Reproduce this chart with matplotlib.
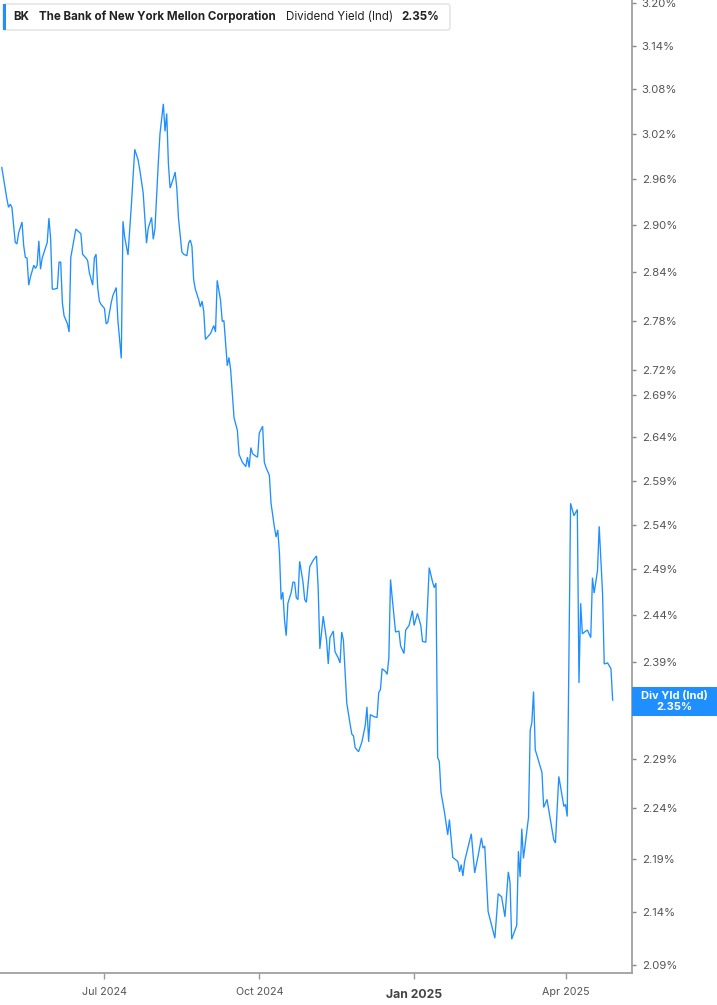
import matplotlib
matplotlib.use("Agg")
import matplotlib.pyplot as plt
import matplotlib.dates as mdates
from matplotlib.patches import Rectangle, FancyBboxPatch
import pandas as pd

plt.rcParams['font.family'] = ['Inter', 'DejaVu Sans']

dates = [
    # May 2024
    "2024-05-01", "2024-05-03", "2024-05-04", "2024-05-05", "2024-05-06", "2024-05-07", "2024-05-09",
    "2024-05-10", "2024-05-11", "2024-05-13", "2024-05-14", "2024-05-15", "2024-05-16", "2024-05-17",
    "2024-05-18", "2024-05-20", "2024-05-21", "2024-05-22", "2024-05-23", "2024-05-24", "2024-05-25",
    "2024-05-28", "2024-05-29", "2024-05-30", "2024-05-31",
    # Jun 2024
    "2024-06-01", "2024-06-03", "2024-06-04", "2024-06-05", "2024-06-06", "2024-06-07", "2024-06-09",
    "2024-06-10", "2024-06-11", "2024-06-12", "2024-06-14", "2024-06-16", "2024-06-17", "2024-06-18",
    "2024-06-20", "2024-06-21", "2024-06-22", "2024-06-24", "2024-06-25", "2024-06-26", "2024-06-27",
    "2024-06-28", "2024-06-29",
    # Jul 2024
    "2024-07-01", "2024-07-02", "2024-07-03", "2024-07-05", "2024-07-06", "2024-07-08", "2024-07-09",
    "2024-07-11", "2024-07-12", "2024-07-13", "2024-07-15", "2024-07-17", "2024-07-19", "2024-07-21",
    "2024-07-22", "2024-07-24", "2024-07-25", "2024-07-26", "2024-07-27", "2024-07-29", "2024-07-30",
    "2024-07-31",
    # Aug 2024
    "2024-08-02", "2024-08-03", "2024-08-05", "2024-08-06", "2024-08-07", "2024-08-08", "2024-08-09",
    "2024-08-11", "2024-08-12", "2024-08-13", "2024-08-14", "2024-08-16", "2024-08-17", "2024-08-19",
    "2024-08-20", "2024-08-21", "2024-08-22", "2024-08-23", "2024-08-24", "2024-08-26", "2024-08-27",
    "2024-08-28", "2024-08-29", "2024-08-30",
    # Sep 2024
    "2024-09-02", "2024-09-04", "2024-09-05", "2024-09-06", "2024-09-08", "2024-09-09", "2024-09-10",
    "2024-09-12", "2024-09-13", "2024-09-14", "2024-09-16", "2024-09-18", "2024-09-19", "2024-09-21",
    "2024-09-23", "2024-09-24", "2024-09-25", "2024-09-26", "2024-09-27", "2024-09-29", "2024-09-30",
    # Oct 2024
    "2024-10-01", "2024-10-03", "2024-10-04", "2024-10-05", "2024-10-07", "2024-10-08", "2024-10-10",
    "2024-10-11", "2024-10-12", "2024-10-13", "2024-10-14", "2024-10-15", "2024-10-16", "2024-10-17",
    "2024-10-18", "2024-10-20", "2024-10-21", "2024-10-22", "2024-10-23", "2024-10-24", "2024-10-25",
    "2024-10-27", "2024-10-28", "2024-10-29", "2024-10-31",
    # Nov 2024
    "2024-11-02", "2024-11-04", "2024-11-05", "2024-11-06", "2024-11-08", "2024-11-10", "2024-11-11",
    "2024-11-12", "2024-11-14", "2024-11-15", "2024-11-17", "2024-11-18", "2024-11-19", "2024-11-20",
    "2024-11-22", "2024-11-24", "2024-11-25", "2024-11-26", "2024-11-27", "2024-11-29",
    # Dec 2024
    "2024-12-01", "2024-12-03", "2024-12-04", "2024-12-05", "2024-12-06", "2024-12-08", "2024-12-10",
    "2024-12-11", "2024-12-12", "2024-12-13", "2024-12-15", "2024-12-16", "2024-12-17", "2024-12-18",
    "2024-12-19", "2024-12-21", "2024-12-23", "2024-12-24", "2024-12-25", "2024-12-26", "2024-12-27",
    "2024-12-29", "2024-12-30", "2024-12-31",
    # Jan 2025
    "2025-01-01", "2025-01-03", "2025-01-05", "2025-01-06", "2025-01-08", "2025-01-10", "2025-01-12",
    "2025-01-13", "2025-01-14", "2025-01-15", "2025-01-16", "2025-01-17", "2025-01-19", "2025-01-21",
    "2025-01-22", "2025-01-24", "2025-01-27", "2025-01-28", "2025-01-29", "2025-01-30", "2025-01-31",
    # Feb 2025
    "2025-02-04", "2025-02-06", "2025-02-08", "2025-02-10", "2025-02-11", "2025-02-12", "2025-02-14",
    "2025-02-18", "2025-02-20", "2025-02-22", "2025-02-24", "2025-02-26", "2025-02-27", "2025-02-28",
    # Mar 2025
    "2025-03-03", "2025-03-04", "2025-03-05", "2025-03-06", "2025-03-07", "2025-03-10", "2025-03-11",
    "2025-03-12", "2025-03-13", "2025-03-14", "2025-03-18", "2025-03-19", "2025-03-21", "2025-03-25",
    "2025-03-26", "2025-03-28", "2025-03-31",
    # Apr 2025
    "2025-04-01", "2025-04-02", "2025-04-04", "2025-04-06", "2025-04-08", "2025-04-09", "2025-04-10",
    "2025-04-11", "2025-04-13", "2025-04-14", "2025-04-16", "2025-04-17", "2025-04-18", "2025-04-20",
    "2025-04-21", "2025-04-23", "2025-04-24", "2025-04-26", "2025-04-28", "2025-04-29",
]

yield_pct = [
    # May 2024
    2.975, 2.947, 2.934, 2.923, 2.927, 2.923, 2.878, 2.876, 2.890, 2.904, 2.874, 2.859, 2.858,
    2.824, 2.834, 2.849, 2.845, 2.849, 2.880, 2.844, 2.858, 2.878, 2.909, 2.883, 2.819,
    # Jun 2024
    2.819, 2.820, 2.853, 2.853, 2.802, 2.786, 2.776, 2.766, 2.859, 2.871, 2.895, 2.891, 2.889,
    2.863, 2.858, 2.855, 2.840, 2.824, 2.858, 2.863, 2.821, 2.804, 2.800,
    # Jul 2024
    2.795, 2.776, 2.778, 2.802, 2.811, 2.821, 2.780, 2.734, 2.905, 2.885, 2.862, 2.926, 2.999,
    2.985, 2.972, 2.942, 2.910, 2.877, 2.896, 2.910, 2.882, 2.895,
    # Aug 2024
    2.981, 3.020, 3.060, 3.023, 3.047, 2.980, 2.948, 2.961, 2.969, 2.948, 2.909, 2.866, 2.863,
    2.861, 2.877, 2.881, 2.873, 2.831, 2.819, 2.806, 2.797, 2.804, 2.792, 2.757,
    # Sep 2024
    2.764, 2.774, 2.766, 2.830, 2.805, 2.779, 2.780, 2.725, 2.735, 2.720, 2.663, 2.648, 2.620,
    2.611, 2.606, 2.617, 2.605, 2.628, 2.621, 2.618, 2.617,
    # Oct 2024
    2.645, 2.653, 2.611, 2.605, 2.596, 2.564, 2.537, 2.526, 2.534, 2.508, 2.457, 2.465, 2.435,
    2.418, 2.453, 2.465, 2.476, 2.476, 2.459, 2.457, 2.499, 2.476, 2.457, 2.454, 2.493,
    # Nov 2024
    2.500, 2.505, 2.470, 2.404, 2.439, 2.413, 2.388, 2.416, 2.423, 2.401, 2.394, 2.389, 2.422,
    2.413, 2.347, 2.325, 2.315, 2.313, 2.301, 2.297,
    # Dec 2024
    2.307, 2.324, 2.343, 2.307, 2.335, 2.333, 2.332, 2.358, 2.361, 2.383, 2.380, 2.377, 2.394,
    2.479, 2.459, 2.422, 2.423, 2.407, 2.403, 2.399, 2.424, 2.429, 2.437, 2.445,
    # Jan 2025
    2.429, 2.442, 2.429, 2.412, 2.411, 2.492, 2.476, 2.470, 2.475, 2.291, 2.287, 2.256, 2.237,
    2.214, 2.229, 2.192, 2.188, 2.178, 2.185, 2.174, 2.188,
    # Feb 2025
    2.215, 2.177, 2.193, 2.211, 2.201, 2.203, 2.140, 2.115, 2.157, 2.154, 2.135, 2.178, 2.168,
    2.114,
    # Mar 2025
    2.127, 2.198, 2.173, 2.220, 2.191, 2.231, 2.319, 2.327, 2.359, 2.299, 2.276, 2.241, 2.249,
    2.209, 2.206, 2.272, 2.242,
    # Apr 2025
    2.244, 2.232, 2.564, 2.550, 2.557, 2.368, 2.453, 2.420, 2.423, 2.424, 2.416, 2.481, 2.464,
    2.489, 2.538, 2.464, 2.388, 2.389, 2.383, 2.350,
]

y_ticks = [3.20, 3.14, 3.08, 3.02, 2.96, 2.90, 2.84, 2.78, 2.72, 2.69, 2.64, 2.59, 2.54, 2.49,
           2.44, 2.39, 2.34, 2.29, 2.24, 2.19, 2.14, 2.09]
x_tick_dates = ["2024-07-01", "2024-10-01", "2025-01-01", "2025-04-01"]
x_tick_labels = ["Jul 2024", "Oct 2024", "Jan 2025", "Apr 2025"]

ticker = "BK"
company = "The Bank of New York Mellon Corporation"
metric = "Dividend Yield (Ind)"
last_label = "2.35%"
tag_label = "Div Yld (Ind)"

LINE = "#1f8fff"
W, H = 717, 1005
fig = plt.figure(figsize=(W / 100, H / 100), dpi=100)
ax = fig.add_axes([0, 1 - 973 / H, 632 / W, 973 / H])

x = pd.to_datetime(dates)
ax.plot(x, yield_pct, color=LINE, lw=0.95, solid_joinstyle='miter')

ax.set_yscale('log')
ax.set_ylim(2.0826, 3.204)
ax.yaxis.set_minor_locator(matplotlib.ticker.NullLocator())
ax.set_yticks(y_ticks)
ax.set_yticklabels([f"{t:.2f}%" for t in y_ticks])
ax.yaxis.tick_right()

start = mdates.date2num(pd.Timestamp("2024-05-01"))
ax.set_xlim(start - 1.07, start + 374.5)
ax.set_xticks(pd.to_datetime(x_tick_dates))
ax.set_xticklabels(x_tick_labels)
ax.xaxis.set_minor_locator(matplotlib.ticker.NullLocator())

for s in ['top', 'left']:
    ax.spines[s].set_visible(False)
for s in ['right', 'bottom']:
    ax.spines[s].set_color('#a0a0a0')
    ax.spines[s].set_linewidth(1.3)

ax.tick_params(axis='y', direction='out', length=3, width=1, color='#888888',
               labelcolor='#555555', labelsize=8.2, pad=4)
ax.tick_params(axis='x', direction='out', length=4, width=1, color='#999999',
               labelcolor='#555555', labelsize=7.7, pad=6)
for lab in ax.get_xticklabels():
    if lab.get_text() == "Jan 2025":
        lab.set_fontweight('bold')
        lab.set_fontsize(8.8)
        lab.set_color('#444444')
        lab.set_y(-0.002)

# last-value tag on the right axis
fig.patches.append(Rectangle((632 / W, 1 - 716 / H), 85 / W, 29 / H, transform=fig.transFigure,
                             facecolor=LINE, edgecolor='none', zorder=10))
fig.text(674 / W, 1 - 695.5 / H, tag_label, color='white', fontsize=8, fontweight='bold',
         ha='center', va='center', zorder=11)
fig.text(674 / W, 1 - 707.5 / H, last_label, color='white', fontsize=8, fontweight='bold',
         ha='center', va='center', zorder=11)

# legend box
fig.patches.append(FancyBboxPatch((3 / W, 1 - 30 / H), 447 / W, 26 / H,
                                  boxstyle="round,pad=0,rounding_size=0.003",
                                  transform=fig.transFigure, facecolor='white',
                                  edgecolor='#e2e2e2', lw=1, zorder=10))
fig.patches.append(Rectangle((3 / W, 1 - 30 / H), 3 / W, 26 / H, transform=fig.transFigure,
                             facecolor=LINE, edgecolor='none', zorder=11))
ty = 1 - 17 / H
fs = 8.3
fig.text(13 / W, ty, ticker, fontsize=fs, fontweight='bold', color='#222222', va='center', zorder=12)
fig.text(39 / W, ty, company, fontsize=fs, fontweight='bold', color='#222222', va='center', zorder=12)
fig.text(286 / W, ty, metric, fontsize=fs, color='#222222', va='center', zorder=12)
fig.text(401 / W, ty, last_label, fontsize=fs, fontweight='bold', color='#222222', va='center', zorder=12)

fig.savefig("out.png", dpi=100, facecolor='white')
